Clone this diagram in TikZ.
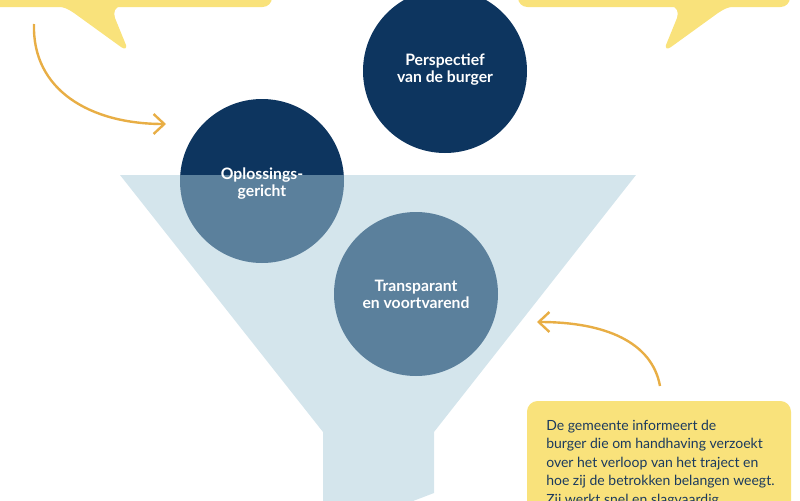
\documentclass[tikz,border=0pt]{standalone}
\usepackage{fontspec}
\setmainfont{Lato}
\usetikzlibrary{arrows.meta}
\definecolor{navy}{HTML}{0D355F}
\definecolor{funnelc}{HTML}{A9CBD9}
\definecolor{bubblec}{HTML}{F9E27B}
\definecolor{arrowc}{HTML}{E8AE45}
\definecolor{textc}{HTML}{1B3A5E}
\tikzset{
  circ/.style={circle, fill=navy, minimum size=123pt, inner sep=0pt},
  circlabel/.style={text=white, font=\fontsize{11.8}{12.9}\selectfont\bfseries, align=center},
  bubble/.style={fill=bubblec},
  arr/.style={draw=arrowc, line width=1.8pt, -{Straight Barb[length=8pt,width=15pt,line width=1.8pt]}},
}
\begin{document}
\begin{tikzpicture}[x=0.75pt,y=-0.75pt]
\useasboundingbox (0,0) rectangle (800,500);
\clip (0,0) rectangle (800,500);
% speech bubbles
\fill[bubble, rounded corners=7] (-40,-40) rectangle (272,7);
\fill[bubble] (56,6) .. controls (64,7) and (68,9) .. (74,13) -- (121,47) .. controls (125,50) and (127,48) .. (126,45) -- (115,18) .. controls (113,12) and (115,7) .. (121,6) -- cycle;
\fill[bubble, rounded corners=7] (518,-40) rectangle (790,7);
\fill[bubble] (736,6) .. controls (728,7) and (724,9) .. (718,13) -- (671,47) .. controls (667,50) and (665,48) .. (666,45) -- (677,18) .. controls (679,12) and (677,7) .. (671,6) -- cycle;
\fill[bubble, rounded corners=8] (527,401) rectangle (791,540);
% circles
\node[circ] (persp) at (445,71) {};
\node[circ] (oplos) at (262,181) {};
\node[circ] (trans) at (416,294) {};
% funnel
\fill[funnelc, fill opacity=0.5] (120,175) -- (636,175) -- (434,432) -- (434,493) -- (400,506) -- (323,506) -- (323,432) -- cycle;
% labels
\node[circlabel] (lpersp) at ([yshift=1pt]persp.center) {Perspectief\\van de burger};
\node[circlabel] (loplos) at ([yshift=-2pt]oplos.center) {Oplossings-\\gericht};
\node[circlabel] (ltrans) at (trans.center) {Transparant\\en voortvarend};
% arrows
\coordinate (a1s) at (34,24);
\coordinate (a1e) at (166,124);
\draw[arr] (a1s) .. controls (32,90) and (90,124) .. (a1e);
\coordinate (a2s) at (660,386);
\coordinate (a2e) at (537,322);
\draw[arr] (a2s) .. controls (652,342) and (605,322) .. (a2e);
% text box
\node[anchor=north west, text=textc, align=left, inner sep=0pt,
      font=\fontsize{10.5}{13.8}\selectfont] (txt) at (546,420)
  {De gemeente informeert de\\burger die om handhaving verzoekt\\over het verloop van het traject en\\hoe zij de betrokken belangen weegt.\\Zij werkt snel en slagvaardig.};
\end{tikzpicture}
\end{document}
